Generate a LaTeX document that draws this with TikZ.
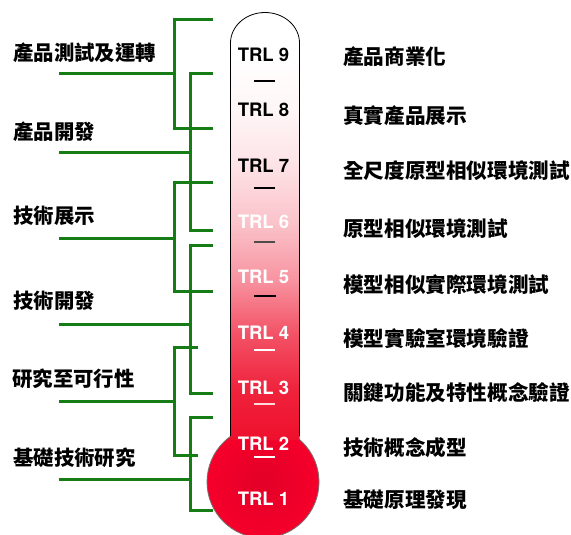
\documentclass[tikz,border=0pt]{standalone}
\usepackage{fontspec}
\setmainfont{Liberation Sans}
\newfontfamily\cjk{Noto Sans CJK TC}
\newfontfamily\trlfont{texgyreheros-bold.otf}

\definecolor{trlgreen}{RGB}{22,125,22}
\definecolor{tubered}{RGB}{238,16,44}
\definecolor{bulbred}{RGB}{246,0,42}
\definecolor{bulbdark}{RGB}{226,0,40}

% Tube colour: white at the top, red at the bottom
\pgfdeclareverticalshading{tubefill}{100bp}{%
  color(0bp)=(tubered); color(25bp)=(tubered);
  color(31bp)=(tubered!92!white); color(37.5bp)=(tubered!72!white);
  color(44bp)=(tubered!44!white); color(50.5bp)=(tubered!25!white);
  color(57bp)=(tubered!12!white); color(63.5bp)=(tubered!4!white);
  color(70bp)=(white); color(100bp)=(white)}

\begin{document}
\begin{tikzpicture}[x=1pt, y=-1pt,
  bracket/.style={draw=trlgreen, line width=3pt},
  trl/.style={font=\trlfont\fontsize{18.5}{22}\selectfont, inner sep=0pt},
  lvl/.style={font=\cjk\bfseries\fontsize{20.6}{24}\selectfont, anchor=west, inner sep=0pt},
  stage/.style={font=\cjk\bfseries\fontsize{20.4}{24}\selectfont, anchor=west, inner sep=0pt},
  tick/.style={line width=1.3pt}]
  \useasboundingbox (0,0) rectangle (571,535);

  % Bulb (draw FIRST, the tube goes over it)
  \shade[inner color=bulbdark, outer color=bulbred] (263,482) circle (56);
  \draw[black!55, line width=0.8pt] (263,482) circle (56);

  % Tube with its dome
  \shade[shading=tubefill] (230.5,440) -- (230.5,43)
    arc[start angle=180, end angle=360, x radius=34.5, y radius=30.5]
    -- (299.5,440) -- cycle;
  \draw[line width=0.8pt] (230.5,436) -- (230.5,43)
    arc[start angle=180, end angle=360, x radius=34.5, y radius=30.5]
    -- (299.5,436);

  % Level marks
  \draw[tick] (254,81) -- (275,81);
  \draw[tick] (254,188) -- (275,188);
  \draw[tick, black!70] (254,242) -- (275,242);
  \draw[tick] (254,296) -- (276,296);
  \draw[tick, white] (254,350) -- (275,350);
  \draw[tick, white!85!red] (254,404) -- (275,404);
  \draw[tick, white] (254,457) -- (275,457);

  % TRL labels
  \node[trl] (trl9) at (263.5,55) {TRL 9};
  \node[trl] (trl8) at (263.5,110) {TRL 8};
  \node[trl] (trl7) at (263.5,166) {TRL 7};
  \node[trl, white] (trl6) at (263.5,222) {TRL 6};
  \node[trl, white] (trl5) at (263.5,277) {TRL 5};
  \node[trl, white] (trl4) at (263.5,333) {TRL 4};
  \node[trl, white] (trl3) at (263.5,388) {TRL 3};
  \node[trl, white] (trl2) at (263.5,444) {TRL 2};
  \node[trl, white] (trl1) at (263.5,499) {TRL 1};

  % Level descriptions
  \node[lvl] (lvl9) at (343,57) {產品商業化};
  \node[lvl] (lvl8) at (343,116) {真實產品展示};
  \node[lvl] (lvl7) at (343,171) {全尺度原型相似環境測試};
  \node[lvl] (lvl6) at (343,229) {原型相似環境測試};
  \node[lvl] (lvl5) at (343,285) {模型相似實際環境測試};
  \node[lvl] (lvl4) at (343,339) {模型實驗室環境驗證};
  \node[lvl] (lvl3) at (343,393) {關鍵功能及特性概念驗證};
  \node[lvl] (lvl2) at (343,448) {技術概念成型};
  \node[lvl] (lvl1) at (343,500) {基礎原理發現};

  % Stage names
  \node[stage] (prodtest) at (13,53) {產品測試及運轉};
  \node[stage] (proddev) at (13,132) {產品開發};
  \node[stage] (techdemo) at (13,216) {技術展示};
  \node[stage] (techdev) at (13,301) {技術開發};
  \node[stage] (feasib) at (12,379) {研究至可行性};
  \node[stage] (basic) at (13,458) {基礎技術研究};

  % Brackets from stages to levels
  \draw[bracket] (213,19.5) -- (174.5,19.5) -- (174.5,128.5) -- (213,128.5);
  \draw[bracket] (59,74) -- (174.5,74);
  \draw[bracket] (213,74) -- (190,74) -- (190,230) -- (213,230);
  \draw[bracket] (59,152.5) -- (190,152.5);
  \draw[bracket] (213,182.5) -- (174.5,182.5) -- (174.5,291.5) -- (213,291.5);
  \draw[bracket] (59,238.5) -- (174.5,238.5);
  \draw[bracket] (213,245.5) -- (190,245.5) -- (190,393.5) -- (213,393.5);
  \draw[bracket] (59,324) -- (190,324);
  \draw[bracket] (198,347.5) -- (174.5,347.5) -- (174.5,455) -- (198,455);
  \draw[bracket] (59,401.5) -- (174.5,401.5);
  \draw[bracket] (213,417.5) -- (190,417.5) -- (190,510) -- (213,510);
  \draw[bracket] (59,479.5) -- (190,479.5);

\end{tikzpicture}
\end{document}
